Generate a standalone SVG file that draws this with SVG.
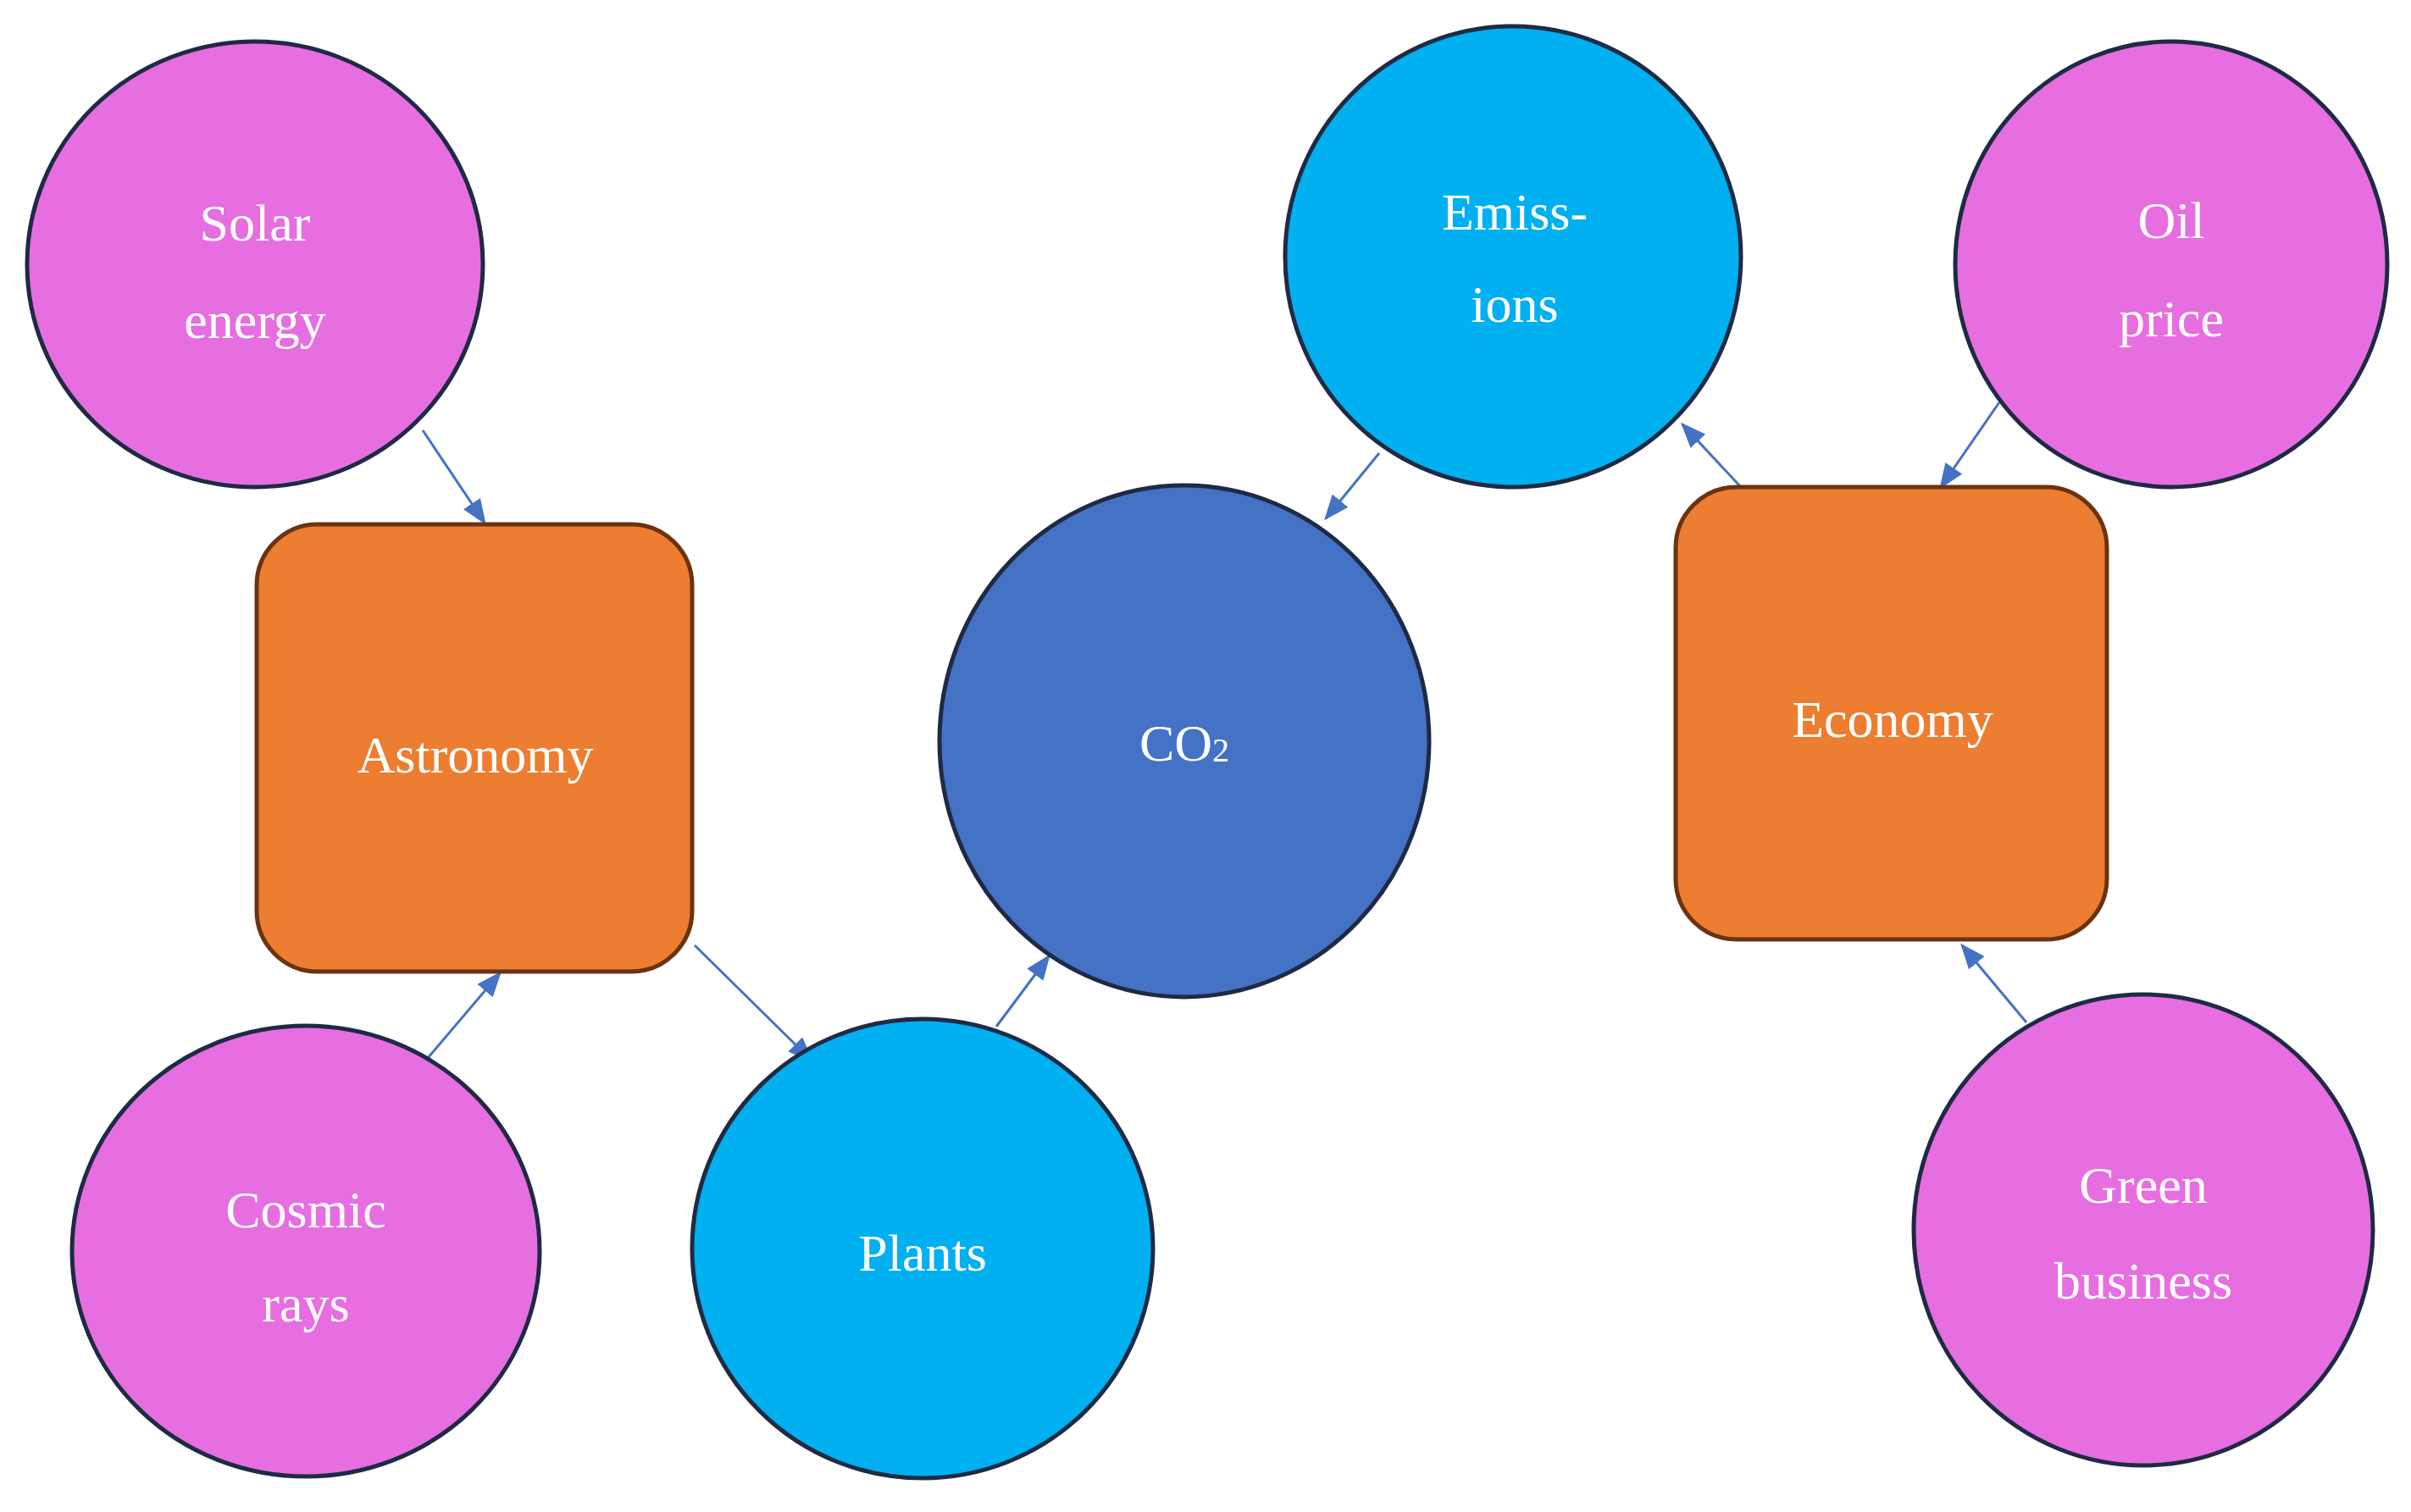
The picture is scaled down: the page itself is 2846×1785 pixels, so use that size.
<svg xmlns="http://www.w3.org/2000/svg" width="2846" height="1785" viewBox="0 0 2846 1785">
<style>
.c{stroke:#1f2a44;stroke-width:5}
.pink{fill:#E76EE0}.cyan{fill:#00B0F0}.blue{fill:#4472C4}
.r{fill:#ED7D31;stroke:#6b3310;stroke-width:5}
text{font-family:"Liberation Serif",serif;font-size:62px;fill:#fff;text-anchor:middle;dominant-baseline:central}
.e line{stroke:#4472C4;stroke-width:3;marker-end:url(#a)}
</style>
<defs><marker id="a" markerWidth="10" markerHeight="8" refX="9" refY="4" orient="auto" markerUnits="strokeWidth"><path d="M0,0L10,4L0,8z" fill="#4472C4"/></marker></defs>
<rect width="2846" height="1785" fill="#fff"/>
<g class="e">
<line x1="499" y1="508" x2="572" y2="617"/>
<line x1="505" y1="1249" x2="590" y2="1149"/>
<line x1="820" y1="1116" x2="958" y2="1252"/>
<line x1="1176" y1="1212" x2="1238" y2="1129"/>
<line x1="1628" y1="535" x2="1565" y2="612"/>
<line x1="2055" y1="575" x2="1986" y2="501"/>
<line x1="2360" y1="475" x2="2291" y2="575"/>
<line x1="2392" y1="1207" x2="2316" y2="1116"/>
</g>
<g id="solar"><ellipse class="c pink" cx="301" cy="312" rx="269" ry="263"/><text x="301" y="263">Solar</text><text x="301" y="378">energy</text></g>
<g id="astronomy"><rect class="r" x="303" y="619" width="514" height="528" rx="72"/><text x="561" y="891">Astronomy</text></g>
<g id="cosmic"><ellipse class="c pink" cx="361" cy="1477" rx="276" ry="266"/><text x="361" y="1428">Cosmic</text><text x="361" y="1539">rays</text></g>
<g id="plants"><ellipse class="c cyan" cx="1089" cy="1474" rx="272" ry="271"/><text x="1089" y="1479">Plants</text></g>
<g id="co2"><ellipse class="c blue" cx="1398" cy="875" rx="289" ry="302"/><text x="1398" y="877">CO<tspan font-size="40" dy="8">2</tspan></text></g>
<g id="emissions"><ellipse class="c cyan" cx="1786" cy="303" rx="269" ry="272"/><text x="1788" y="250">Emiss-</text><text x="1788" y="359">ions</text></g>
<g id="oil"><ellipse class="c pink" cx="2563" cy="312" rx="255" ry="263"/><text x="2563" y="260">Oil</text><text x="2563" y="376">price</text></g>
<g id="economy"><rect class="r" x="1978" y="575" width="509" height="534" rx="72"/><text x="2234" y="849">Economy</text></g>
<g id="green"><ellipse class="c pink" cx="2530" cy="1452" rx="271" ry="278"/><text x="2530" y="1399">Green</text><text x="2530" y="1512">business</text></g>
</svg>
